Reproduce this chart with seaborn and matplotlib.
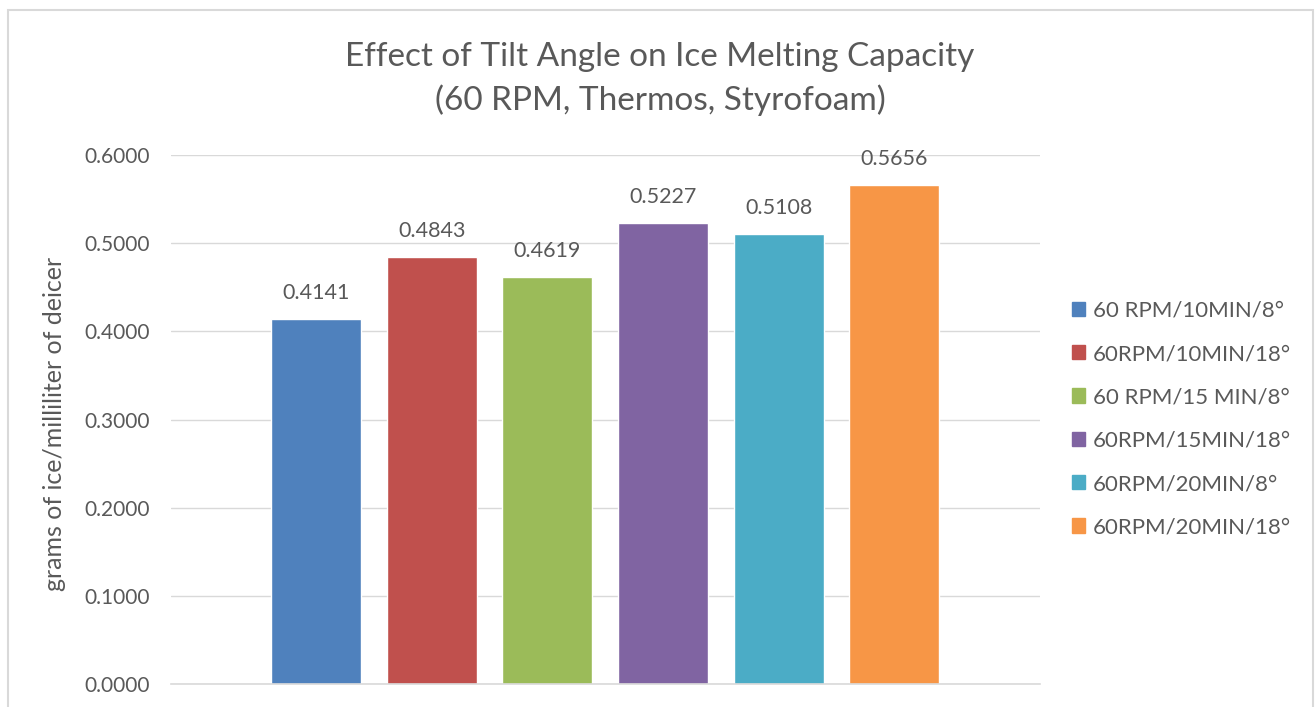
import matplotlib
matplotlib.use("Agg")
import matplotlib.pyplot as plt
import seaborn as sns
import pandas as pd
from matplotlib.patches import Rectangle

categories = ["60 RPM/10MIN/8°", "60RPM/10MIN/18°", "60 RPM/15 MIN/8°",
              "60RPM/15MIN/18°", "60RPM/20MIN/8°", "60RPM/20MIN/18°"]
values = [0.4141, 0.4843, 0.4619, 0.5227, 0.5108, 0.5656]
colors = ["#4F81BD", "#C0504D", "#9BBB59", "#8064A2", "#4BACC6", "#F79646"]
yticks = [0.0, 0.1, 0.2, 0.3, 0.4, 0.5, 0.6]

sns.set_theme(style="white")
plt.rcParams['font.family'] = ['Lato', 'DejaVu Sans']
txt = "#595959"

df = pd.DataFrame({"cat": categories, "val": values})
fig = plt.figure(figsize=(13.15, 7.07), dpi=100)
ax = fig.add_axes([171/1315, 1-684/707, (1040-171)/1315, (684-155)/707])
sns.barplot(data=df, x="cat", y="val", hue="cat", palette=colors, order=categories,
            hue_order=categories, width=0.78, dodge=False, legend=False, ax=ax, saturation=1)
ax.set_xlim(-1.255, 5 + 1.26)
ax.set_ylim(0, 0.6)
ax.set_yticks(yticks)
ax.set_yticklabels([f"{t:.4f}" for t in yticks], color=txt, fontsize=15)
ax.tick_params(axis='y', length=0, pad=15)
ax.set_xticks([])
ax.set_xlabel("")
ax.set_ylabel("")
ax.grid(axis='y', color="#D9D9D9", linewidth=1)
ax.set_axisbelow(True)
for s in ["top", "right", "left"]:
    ax.spines[s].set_visible(False)
ax.spines["bottom"].set_color("#D9D9D9")
ax.spines["bottom"].set_linewidth(1.2)

fig.text(55/1315, 1-424/707, "grams of ice/milliliter of deicer", rotation=90,
         ha="center", va="center", color=txt, fontsize=18)

for i, v in enumerate(values):
    ax.text(i, v + 0.018, f"{v:.4f}", ha="center", va="bottom", color=txt, fontsize=15.5)

fig.text(660/1315, 1-57/707, "Effect of Tilt Angle on Ice Melting Capacity", ha="center", va="center",
         color=txt, fontsize=24)
fig.text(660/1315, 1-100/707, "(60 RPM, Thermos, Styrofoam)", ha="center", va="center",
         color=txt, fontsize=24)

handles = [Rectangle((0, 0), 1, 1, color=c) for c in colors]
leg = fig.legend(handles, categories, loc="center left", bbox_to_anchor=(1072/1315, 1-419/707),
                 frameon=False, fontsize=16, handlelength=0.6, handleheight=0.6,
                 labelspacing=1.05, handletextpad=0.35, borderaxespad=0, borderpad=0)
for t in leg.get_texts():
    t.set_color(txt)

fig.patches.append(Rectangle((8/1315, -0.05), (1313-8)/1315, 1.05 - 10/707, transform=fig.transFigure,
                             fill=False, edgecolor="#D9D9D9", linewidth=1.5))

fig.savefig("out.png", dpi=100)
